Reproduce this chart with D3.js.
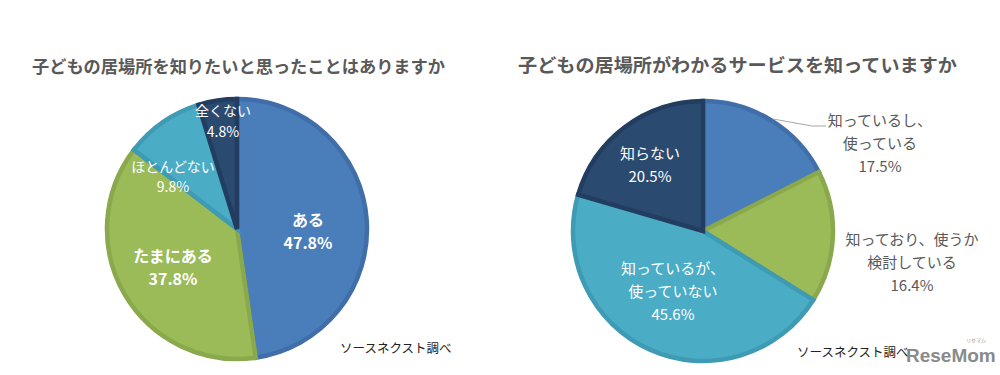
<!DOCTYPE html>
<html>
<head>
<meta charset="utf-8">
<script src="https://cdn.jsdelivr.net/npm/d3@7"></script>
<style>
  body { margin: 0; background: #fff; }
  svg { display: block; font-family: "Noto Sans CJK JP", "Noto Sans", sans-serif; }
</style>
</head>
<body>
<svg id="chart" width="1000" height="375"></svg>
<script>
// left pie: 子どもの居場所を知りたいと思ったことはありますか
const leftCats = ["ある", "たまにある", "ほとんどない", "全くない"];
const leftVals = [47.8, 37.8, 9.8, 4.8];

// right pie: 子どもの居場所がわかるサービスを知っていますか
const rightCats = ["知っているし、\n使っている", "知っており、使うか\n検討している", "知っているが、\n使っていない", "知らない"];
const rightVals = [17.5, 16.4, 45.6, 20.5];

const fills = ["#4a7ebb", "#9bbb59", "#4bacc6", "#2b4a70"];
const edges = ["#3f6ea8", "#89a94c", "#3f9ab3", "#223d5f"];

const svg = d3.select("#chart");

const pie = d3.pie().sort(null).value(d => d);

function drawPie(cx, cy, r, vals) {
  const g = svg.append("g").attr("transform", `translate(${cx},${cy})`);
  const arcs = pie(vals);
  const arc = d3.arc().innerRadius(0).outerRadius(r - 2);
  g.selectAll("path")
    .data(arcs)
    .join("path")
    .attr("d", arc)
    .attr("fill", (d, i) => fills[i])
    .attr("stroke", (d, i) => edges[i])
    .attr("stroke-width", 4.5)
    .attr("stroke-linejoin", "miter");
  return g;
}

function label(g, x, y, lines, opt) {
  const t = g.append("text")
    .attr("text-anchor", "middle")
    .attr("fill", opt.color)
    .attr("font-size", opt.size)
    .attr("font-weight", opt.bold ? "bold" : "normal");
  lines.forEach((s, i) => {
    t.append("tspan").attr("x", x).attr("y", y + i * opt.lh).text(s);
  });
}

// titles
svg.append("text")
  .attr("x", 32).attr("y", 73)
  .attr("font-size", 17).attr("font-weight", "bold").attr("fill", "#595959")
  .attr("textLength", 413).attr("lengthAdjust", "spacingAndGlyphs")
  .text("子どもの居場所を知りたいと思ったことはありますか");

svg.append("text")
  .attr("x", 518).attr("y", 72)
  .attr("font-size", 18.5).attr("font-weight", "bold").attr("fill", "#595959")
  .attr("textLength", 439).attr("lengthAdjust", "spacingAndGlyphs")
  .text("子どもの居場所がわかるサービスを知っていますか");

// left pie
drawPie(237, 229, 132, leftVals);
const fmt = v => v.toFixed(1) + "%";
label(svg, 308, 226, [leftCats[0], fmt(leftVals[0])], { color: "#fff", size: 16, bold: true, lh: 23 });
label(svg, 173, 262, [leftCats[1], fmt(leftVals[1])], { color: "#fff", size: 16, bold: true, lh: 23 });
label(svg, 173, 172, [leftCats[2], fmt(leftVals[2])], { color: "#fff", size: 14, bold: false, lh: 20 });
label(svg, 223, 116, [leftCats[3], fmt(leftVals[3])], { color: "#fff", size: 14, bold: false, lh: 21 });

// right pie
drawPie(703, 231, 132, rightVals);

// leader line for first slice
svg.append("polyline")
  .attr("points", "773,119 812,126 826,126")
  .attr("fill", "none")
  .attr("stroke", "#a6a6a6")
  .attr("stroke-width", 1);

label(svg, 880, 126, [...rightCats[0].split("\n"), fmt(rightVals[0])], { color: "#595959", size: 15, bold: false, lh: 23 });
label(svg, 912, 245, [...rightCats[1].split("\n"), fmt(rightVals[1])], { color: "#595959", size: 15, bold: false, lh: 23 });
label(svg, 673, 274, [...rightCats[2].split("\n"), fmt(rightVals[2])], { color: "#fff", size: 15, bold: false, lh: 23 });
label(svg, 650, 159, [rightCats[3], fmt(rightVals[3])], { color: "#fff", size: 15, bold: false, lh: 23 });

// source notes
svg.append("text").attr("x", 340).attr("y", 353)
  .attr("font-size", 12.5).attr("fill", "#222").text("ソースネクスト調べ");
svg.append("text").attr("x", 797).attr("y", 357)
  .attr("font-size", 12.5).attr("fill", "#222").text("ソースネクスト調べ");

// watermark
svg.append("text").attr("x", 906).attr("y", 362)
  .attr("font-family", "'Liberation Sans', Arial, sans-serif")
  .attr("font-size", 19).attr("font-weight", "bold")
  .attr("fill", "#8a8a8a")
  .text("ReseMom");
svg.append("text").attr("x", 966).attr("y", 342)
  .attr("font-size", 5).attr("fill", "#999").text("リセマム");
</script>
</body>
</html>
